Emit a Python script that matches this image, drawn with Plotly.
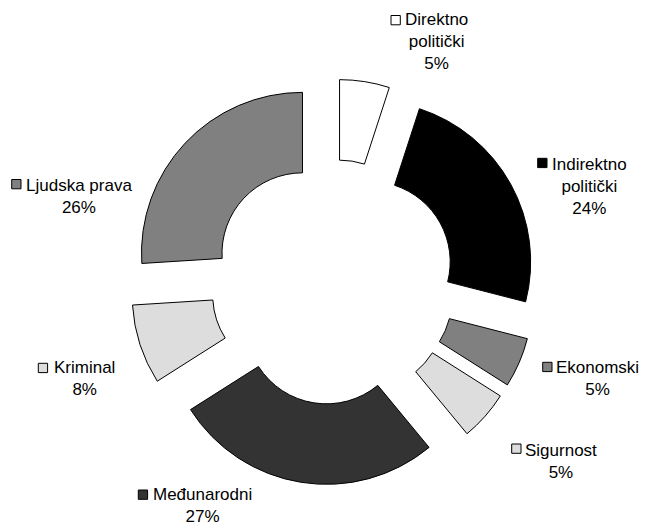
import plotly.graph_objects as go

# ---- data ----
categories = ["Direktno politički", "Indirektno politički", "Ekonomski", "Sigurnost",
              "Međunarodni", "Kriminal", "Ljudska prava"]
label_lines = ["Direktno<br>politički", "Indirektno<br>politički", "Ekonomski", "Sigurnost",
               "Međunarodni", "Kriminal", "Ljudska prava"]
values = [5, 24, 5, 5, 27, 8, 26]

# ---- styles ----
colors = ["#FFFFFF", "#000000", "#808080", "#DDDDDD", "#333333", "#DDDDDD", "#808080"]

W, H = 646, 525
FS = 17
FONT = "Liberation Sans, Arial, sans-serif"

# pie geometry (pixels)
cx, cy, R, pull = 333, 282, 161, 0.26
half = R * (1 + pull)

fig = go.Figure(go.Pie(
    labels=categories,
    values=values,
    sort=False,
    direction="clockwise",
    rotation=0,
    hole=0.5,
    pull=pull,
    textinfo="none",
    hoverinfo="label+percent",
    showlegend=False,
    marker=dict(colors=colors, line=dict(color="#000000", width=1)),
    domain=dict(x=[(cx - half) / W, (cx + half) / W],
                y=[1 - (cy + half) / H, 1 - (cy - half) / H]),
))

# label layout: (text centre x, first-line baseline y) in pixels
label_pos = [(436.5, 25.3), (589.3, 170.0), (597.0, 373.3), (561.0, 456.0),
             (202.0, 500.7), (84.5, 373.3), (79.2, 191.7)]
# legend-key squares: top-left corner in pixels
key_pos = [(391.0, 15.5), (537.7, 158.3), (542.7, 362.3), (511.7, 444.0),
           (138.3, 490.0), (38.3, 363.3), (11.7, 179.5)]
KEY = 9.3

annotations = []
shapes = []
for name, val, col, (lx, lb), (kx, ky) in zip(label_lines, values, colors, label_pos, key_pos):
    text = f"{name}<br>{val}%"
    n = text.count("<br>") + 1
    yc = lb + ((n - 1) * 1.3 * FS + (0.212 - 0.905) * FS) / 2
    annotations.append(dict(
        x=lx / W, y=1 - yc / H, xref="paper", yref="paper",
        text=text, showarrow=False, xanchor="center", yanchor="middle",
        align="center", font=dict(family=FONT, size=FS, color="#000000"),
    ))
    shapes.append(dict(
        type="rect", xref="paper", yref="paper",
        x0=kx / W, x1=(kx + KEY) / W, y0=1 - ky / H, y1=1 - (ky + KEY) / H,
        fillcolor=col, line=dict(color="#000000", width=1),
    ))

fig.update_layout(
    width=W, height=H,
    margin=dict(l=0, r=0, t=0, b=0),
    paper_bgcolor="#FFFFFF", plot_bgcolor="#FFFFFF",
    annotations=annotations, shapes=shapes,
    font=dict(family=FONT, size=FS, color="#000000"),
)

fig.write_html(
    "out.html",
    config={"displayModeBar": False},
    post_script="document.body.style.margin='0';document.body.style.padding='0';"
                "document.body.style.overflow='hidden';",
)
